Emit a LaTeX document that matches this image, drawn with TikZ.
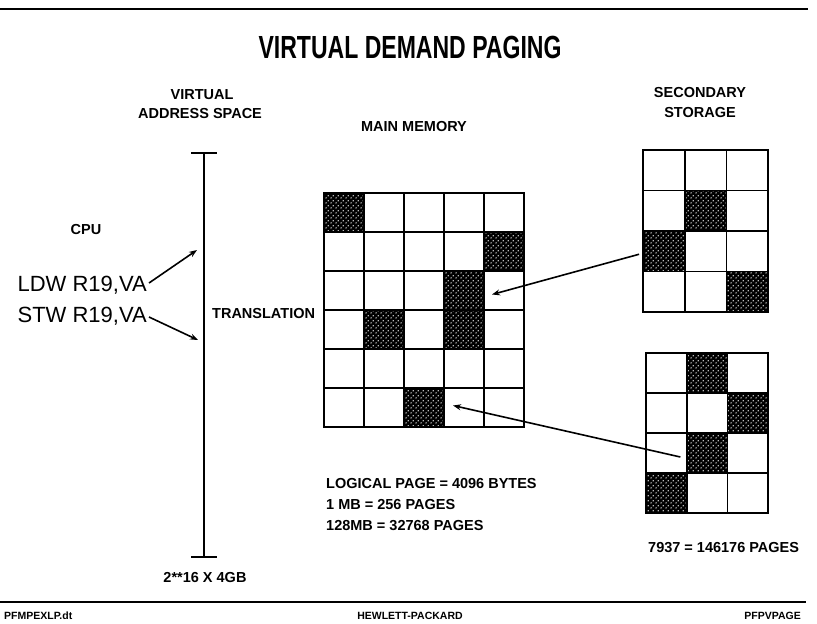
\documentclass[tikz,border=0pt]{standalone}
\usepackage{fontspec}
\setmainfont{Liberation Sans}
\newfontfamily\titlefont{Liberation Sans}[FakeStretch=0.72]
\usetikzlibrary{arrows.meta,patterns.meta}
\tikzdeclarepattern{
  name=hpdots, type=uncolored,
  bounding box={(0pt,0pt) and (5pt,5pt)},
  tile size={(5pt,5pt)},
  code={\fill (1.25pt,1.25pt) circle (0.85pt); \fill (3.75pt,3.75pt) circle (0.85pt);}
}
% grid of page frames: name, left, top, cell w, cell h, last col, last row, dark cells
\newcommand{\PageGrid}[8]{%
  \foreach \c/\r in {#8}
    \fill[darkcell] ({#2+#4*\c},{#3+#5*\r}) rectangle +(#4,#5);
  \foreach \c in {0,...,#6} \foreach \r in {0,...,#7}
    \node[pagecell,minimum width=#4pt,minimum height=#5pt] (#1-\c-\r) at ({#2+#4*(\c+0.5)},{#3+#5*(\r+0.5)}) {};
}

\begin{document}
\begin{tikzpicture}[x=1pt,y=-1pt,
  lbl/.style={inner sep=0pt,font=\fontsize{14.5}{16}\selectfont\bfseries},
  cpu/.style={inner sep=0pt,font=\fontsize{22}{24}\selectfont},
  foot/.style={inner sep=0pt,font=\fontsize{10.5}{12}\selectfont\bfseries},
  pagecell/.style={draw,line width=1.8pt,inner sep=0pt},
  darkcell/.style={fill=black,postaction={pattern=hpdots,pattern color=white}},
  arr/.style={line width=1.6pt,-{Stealth[length=8pt,width=6pt]}}]
\useasboundingbox (0,0) rectangle (817,624);
\draw[line width=1.8pt] (0,9) -- (808,9);
\draw[line width=1.8pt] (0,602) -- (806,602);
\node[inner sep=0pt,font=\titlefont\fontsize{32}{36}\selectfont\bfseries] (title) at (410,47) {VIRTUAL DEMAND PAGING};

% virtual address space
\node[lbl] (virt) at (202,95) {VIRTUAL};
\node[lbl] (vas) at (200,114) {ADDRESS SPACE};
\coordinate (vtop) at (204,153);
\coordinate (vbot) at (204,557);
\draw[line width=2.2pt] (vtop) -- (vbot);
\draw[line width=1.6pt] ([xshift=-13pt]vtop) -- ([xshift=13pt]vtop);
\draw[line width=1.6pt] ([xshift=-13pt]vbot) -- ([xshift=13pt]vbot);
\node[lbl] (size) at (205,578) {2**16 X 4GB};
\node[lbl,anchor=west] (trans) at (212,314) {TRANSLATION};

% cpu
\node[lbl] (cpu) at (86,230) {CPU};
\node[cpu,anchor=east] (ldw) at (147,285) {LDW R19,VA};
\node[cpu,anchor=east] (stw) at (147,316) {STW R19,VA};
\coordinate (ldtip) at (197,250);
\coordinate (sttip) at (198,340);
\draw[arr] ([xshift=2pt,yshift=2pt]ldw.east) -- (ldtip);
\draw[arr] ([xshift=2pt,yshift=-1pt]stw.east) -- (sttip);

% main memory
\node[lbl] (mm) at (414,127) {MAIN MEMORY};
\PageGrid{m}{324}{193}{40}{39}{4}{5}{0/0,4/1,3/2,1/3,3/3,2/5}
\node[lbl,anchor=west] (lp) at (326,484) {LOGICAL PAGE = 4096 BYTES};
\node[lbl,anchor=west] (mb) at (326,505) {1 MB = 256 PAGES};
\node[lbl,anchor=west] (mb128) at (326,526) {128MB = 32768 PAGES};

% secondary storage
\node[lbl] (sec) at (700,93) {SECONDARY};
\node[lbl] (sto) at (700,113) {STORAGE};
\PageGrid{s}{643}{150}{41.7}{40.5}{2}{3}{1/1,0/2,2/3}
\PageGrid{t}{646}{353}{40.7}{40}{2}{3}{1/0,2/1,1/2,0/3}
\node[lbl,anchor=west] (disk) at (648,548) {7937 = 146176 PAGES};

\draw[arr] ([xshift=-3pt,yshift=-3pt]s-0-2.west) -- ([xshift=-12pt,yshift=-4pt]m-4-2.center);
\draw[arr] ([xshift=14pt,yshift=-4pt]t-0-2.center) -- ([xshift=-11pt,yshift=2pt]m-3-5.center);

% footer
\node[foot,anchor=west] (fl) at (4,616) {PFMPEXLP.dt};
\node[foot] (fc) at (410,616) {HEWLETT-PACKARD};
\node[foot,anchor=east] (fr) at (801,616) {PFPVPAGE};
\end{tikzpicture}
\end{document}
